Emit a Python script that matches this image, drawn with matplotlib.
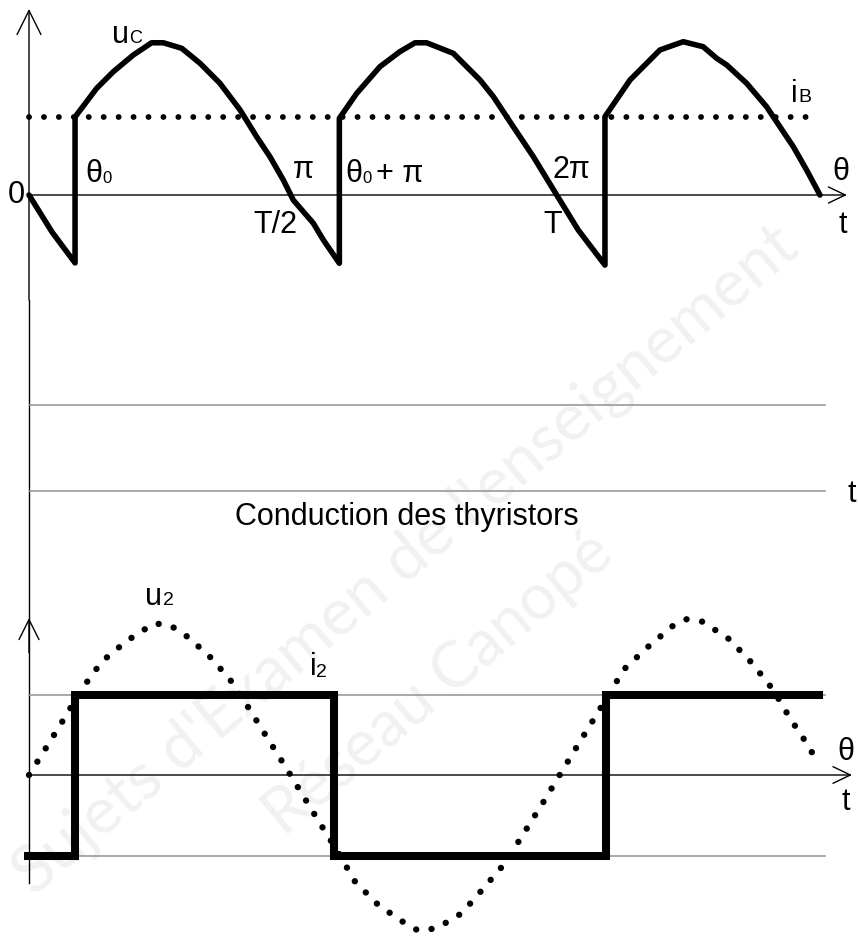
import matplotlib
matplotlib.use("Agg")
import matplotlib.pyplot as plt

plt.rcParams["font.family"] = ["Liberation Sans", "DejaVu Sans"]

# ---------------------------------------------------------------------------
# Waveforms of a fully controlled single-phase bridge (theta in degrees,
# voltages in per-unit of the supply peak, currents in per-unit of I)
# ---------------------------------------------------------------------------
theta_uc = [0, 15.7, 31.4, 31.4, 46.1, 57.5, 71.1, 83.6, 91.6, 104.1, 116.6,
            130.2, 143.9, 155.2, 164.3, 173.4, 180.2, 193.9, 200.7, 211.6,
            211.6, 223.4, 239.3, 252.9, 263.2, 271.1, 289.3, 307.5, 316.6,
            330.2, 343.9, 359.8, 374.5, 392.7, 392.7, 409.8, 430.2, 446.1,
            459.7, 468.9, 475.7, 489.3, 502.9, 512.0, 521.1, 530.2, 539.3]
uc = [0, -0.242, -0.444, 0.51, 0.697, 0.806, 0.915, 0.995, 0.995, 0.959,
      0.861, 0.730, 0.556, 0.381, 0.250, 0.098, -0.033, -0.185, -0.294,
      -0.446, 0.501, 0.664, 0.839, 0.937, 0.995, 0.995, 0.926, 0.752, 0.643,
      0.446, 0.250, 0.0, -0.229, -0.458, 0.512, 0.752, 0.948, 1.002, 0.969,
      0.893, 0.850, 0.730, 0.577, 0.446, 0.316, 0.163, 0.0]

theta_ib = [0, 538]
ib = [0.51, 0.51]

theta_u2 = [0, 12.1, 24.5, 35.9, 49.6, 66.6, 85.2, 95.7, 105.2, 122.3, 137.0,
            149.5, 162.0, 174.5, 185.9, 198.4, 209.8, 222.3, 238.2, 256.4,
            265.4, 277.9, 295.0, 309.8, 324.5, 337.0, 350.2, 363.2, 375.2,
            387.5, 405.7, 421.6, 438.9, 448.4, 459.3, 477.5, 492.7, 507.5,
            518.9, 531.8, 537.5]
u2 = [0, 0.185, 0.377, 0.560, 0.741, 0.876, 0.991, 0.980, 0.926, 0.784,
      0.625, 0.442, 0.250, 0.059, -0.120, -0.316, -0.490, -0.697, -0.850,
      -0.969, -1.017, -1.002, -0.904, -0.741, -0.577, -0.386, -0.185, 0.022,
      0.211, 0.403, 0.691, 0.834, 0.974, 1.018, 1.002, 0.887, 0.734, 0.556,
      0.370, 0.185, 0.080]

theta_i2 = [-3.4, 31.4, 31.4, 208.0, 208.0, 393.4, 393.4, 541.4]
i2 = [-1, -1, 1, 1, -1, -1, 1, 1]

i_levels = [1, -1]
i_levels_span = [0, 542.7]
conduction_rows = [1, 0]
conduction_span = [0.7, 542.7]

# ---------------------------------------------------------------------------
W, H = 858, 938
fig = plt.figure(figsize=(W / 100, H / 100), dpi=100)
fig.patch.set_facecolor("white")

PX_PER_DEG = 264 / 180
X_ORIGIN = 29
XLIM = (-X_ORIGIN / PX_PER_DEG, (W - X_ORIGIN) / PX_PER_DEG)


def band(top_px, bottom_px, zero_px, unit_px):
    ax = fig.add_axes([0, 1 - bottom_px / H, 1, (bottom_px - top_px) / H])
    ax.set_xlim(*XLIM)
    ax.set_ylim((zero_px - bottom_px) / unit_px, (zero_px - top_px) / unit_px)
    ax.set_axis_off()
    ax.patch.set_alpha(0)
    return ax


def arrow(ax, start, end, hl, hw, lw=1.0):
    ax.annotate("", xy=end, xytext=start, annotation_clip=False,
                arrowprops=dict(arrowstyle=f"->,head_length={hl},head_width={hw}",
                                lw=lw, color="black", shrinkA=0, shrinkB=0,
                                mutation_scale=1))


# faint watermark behind everything
wm = dict(family=["Lato", "DejaVu Sans"], color="#f1f1f1",
          rotation=40, rotation_mode="anchor", ha="left", va="baseline",
          zorder=-10)
fig.text(34 / W, 1 - 896 / H, "Sujets d'Examen de l'enseignement", fontsize=47, **wm)
fig.text(284 / W, 1 - 838 / H, "Réseau Canopé", fontsize=46, **wm)

MAIN = 22
SUB = 13

# ---------------- top: output voltage u_c and current i_B -----------------
ax_top = band(0, 300, 195, 153)
y0 = ax_top.get_ylim()[0]
arrow(ax_top, (0, y0), (0, 1.216), 17.3, 8.6)
arrow(ax_top, (0, 0), (557.7, 0), 12.2, 5.8)
ax_top.plot(theta_ib, ib, color="black", lw=4.2, linestyle=(0, (0.01, 2.55)),
            dash_capstyle="round", zorder=3)
ax_top.plot(theta_uc, uc, color="black", lw=4.0, solid_joinstyle="round",
            solid_capstyle="round", zorder=4)

txt = dict(color="black", va="baseline", ha="left")
ax_top.text(56.6, 0.993, "u", fontsize=MAIN, **txt)
ax_top.text(68.2, 0.993, "C", fontsize=SUB, **txt)
ax_top.text(38.2, 0.085, "θ", fontsize=MAIN, **txt)
ax_top.text(49.8, 0.078, "0", fontsize=SUB - 1, **txt)
ax_top.text(-8.9, -0.052, "0", fontsize=MAIN, color="black", va="baseline", ha="center")
ax_top.text(180.0, 0.111, "π", fontsize=MAIN, **txt)
ax_top.text(215.5, 0.085, "θ", fontsize=MAIN, **txt)
ax_top.text(227.0, 0.078, "0", fontsize=SUB - 1, **txt)
ax_top.text(236.6, 0.085, "+ π", fontsize=MAIN, **txt)
ax_top.text(152.7, -0.248, "T/2", fontsize=MAIN, **txt)
ax_top.text(356.6, 0.111, "2π", fontsize=MAIN, **txt)
ax_top.text(350.5, -0.248, "T", fontsize=MAIN, **txt)
ax_top.text(519.5, 0.608, "i", fontsize=MAIN, **txt)
ax_top.text(524.3, 0.608, "B", fontsize=SUB + 1, **txt)
ax_top.text(547.5, 0.098, "θ", fontsize=MAIN, **txt)
ax_top.text(551.6, -0.248, "t", fontsize=MAIN, **txt)

# ---------------- middle: thyristor conduction chart -----------------------
ax_mid = band(300, 590, 491, 86)
ax_mid.axvline(0, color="black", lw=1.0)
for row in conduction_rows:
    ax_mid.plot(conduction_span, [row, row], color="#999999", lw=1.2)
ax_mid.text(558.4, -0.128, "t", fontsize=MAIN, **txt)
ax_mid.text(140.5, -0.395, "Conduction des thyristors", fontsize=MAIN, **txt)

# ---------------- bottom: supply voltage u2 and line current i2 ------------
ax_bot = band(590, 938, 775, 153)
ytop = ax_bot.get_ylim()[1]
ax_bot.plot([0, 0], [ytop, -0.706], color="black", lw=1.0)
arrow(ax_bot, (0, 0.8), (0, 1.026), 14.4, 7.2)
arrow(ax_bot, (0, 0), (561.1, 0), 12.5, 6.0)
ax_bot.plot(theta_u2, u2, color="black", lw=4.6, linestyle=(0, (0.01, 2.45)),
            dash_capstyle="round", zorder=3)
ax_bot.text(79.1, 1.111, "u", fontsize=MAIN, **txt)
ax_bot.text(91.4, 1.111, "2", fontsize=SUB + 1, **txt)
ax_bot.text(550.9, 0.098, "θ", fontsize=MAIN, **txt)
ax_bot.text(554.3, -0.229, "t", fontsize=MAIN, **txt)

ax_i = band(590, 938, 775, 80.5)
for lev in i_levels:
    ax_i.plot(i_levels_span, [lev, lev], color="#999999", lw=1.2, zorder=1)
ax_i.plot(theta_i2, i2, color="black", lw=5.8, solid_joinstyle="miter",
          solid_capstyle="butt", zorder=4)
ax_i.text(191.6, 1.242, "i", fontsize=MAIN, **txt)
ax_i.text(195.5, 1.217, "2", fontsize=SUB + 1, **txt)

fig.savefig("out.png", dpi=100, facecolor="white")
